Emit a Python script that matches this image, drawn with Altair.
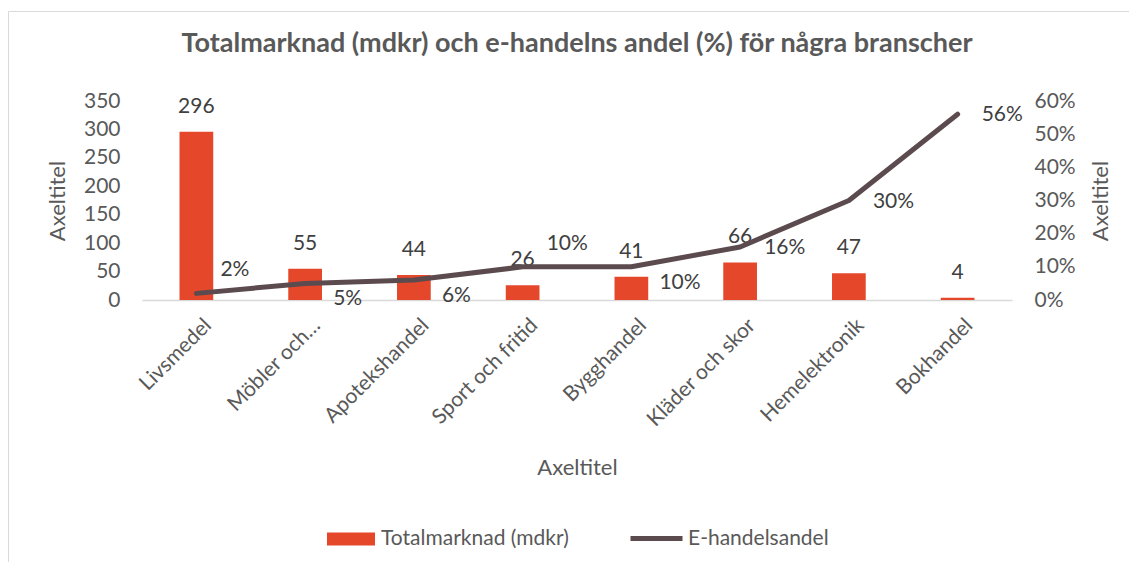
import altair as alt
import pandas as pd

# ---- data ----
categories = ["Livsmedel", "Möbler och…", "Apotekshandel", "Sport och fritid",
              "Bygghandel", "Kläder och skor", "Hemelektronik", "Bokhandel"]
totalmarknad = [296, 55, 44, 26, 41, 66, 47, 4]
ehandel_andel = [0.02, 0.05, 0.06, 0.10, 0.10, 0.16, 0.30, 0.56]
bar_series = "Totalmarknad (mdkr)"
line_series = "E-handelsandel"
left_ticks = [0, 50, 100, 150, 200, 250, 300, 350]
right_ticks = [0, 0.1, 0.2, 0.3, 0.4, 0.5, 0.6]
above_labels = ["Livsmedel", "Sport och fritid"]
below_labels = ["Möbler och…", "Apotekshandel", "Bygghandel"]
right_labels = ["Kläder och skor", "Hemelektronik", "Bokhandel"]

df = pd.DataFrame({
    "kategori": categories,
    "total": totalmarknad,
    "andel": ehandel_andel,
    "s1": bar_series,
    "s2": line_series,
})

W, H = 870, 199
FONT = "Lato"
FS = 21
GRAY = "#595959"
TXT = "#404040"
RED = "#e5472b"
DARK = "#5b4b4f"

x_enc = alt.X(
    "kategori:N", sort=categories,
    scale=alt.Scale(paddingInner=0.69, paddingOuter=0.345),
    axis=alt.Axis(
        title="Axeltitel", labelAngle=-45, labelAlign="right", labelBaseline="middle",
        labelPadding=22, labelOffset=12, ticks=False, tickSize=0, grid=False,
        domainColor="#d9d9d9", domainWidth=1.5,
        labelFont=FONT, labelFontSize=FS, labelColor=GRAY,
        titleFont=FONT, titleFontSize=FS + 1, titleFontWeight="normal", titleColor=GRAY,
        titleX=W / 2, titleY=167, titleBaseline="middle", titleAlign="center",
    ),
)

y_left = alt.Y(
    "total:Q",
    scale=alt.Scale(domain=[0, 350]),
    axis=alt.Axis(
        values=left_ticks, grid=False, domain=False, ticks=False, tickSize=0,
        labelPadding=22, labelFont=FONT, labelFontSize=FS, labelColor=GRAY,
        title="Axeltitel", titleFont=FONT, titleFontSize=FS + 1, titleFontWeight="normal",
        titleColor=GRAY, titleAngle=270, titleX=-85, titleY=H / 2,
        titleAlign="center", titleBaseline="middle",
    ),
)

y_right = alt.Y(
    "andel:Q",
    scale=alt.Scale(domain=[0, 0.6]),
    axis=alt.Axis(
        orient="right", values=right_ticks, format=".0%", grid=False, domain=False,
        ticks=False, tickSize=0, labelPadding=22,
        labelFont=FONT, labelFontSize=FS, labelColor=GRAY,
        title="Axeltitel", titleFont=FONT, titleFontSize=FS + 1, titleFontWeight="normal",
        titleColor=GRAY, titleAngle=270, titleX=88, titleY=H / 2,
        titleAlign="center", titleBaseline="middle",
    ),
)

base = alt.Chart(df)

border = base.mark_rect(filled=False, stroke="#d9d9d9", strokeWidth=1).encode(
    x=alt.value(-133.5), x2=alt.value(W + 200), y=alt.value(-89.5), y2=alt.value(H + 300)
).transform_filter(alt.datum.kategori == categories[0])

bars = base.mark_bar().encode(
    x=x_enc,
    y=y_left,
    color=alt.Color(
        "s1:N", scale=alt.Scale(domain=[bar_series], range=[RED]),
        legend=alt.Legend(
            title=None, orient="none", legendX=185, legendY=414,
            symbolType="M-1,-0.27H1V0.27H-1Z", symbolSize=2304, symbolStrokeWidth=0,
            labelFont=FONT, labelFontSize=FS, labelColor=GRAY, labelOffset=6,
            labelLimit=400,
        ),
    ),
)

bar_text = base.mark_text(
    font=FONT, fontSize=FS, color=TXT, baseline="middle", dy=-25
).encode(x=x_enc, y=y_left, text=alt.Text("total:Q"))

line = base.mark_line(strokeWidth=5, strokeCap="round", strokeJoin="round").encode(
    x=x_enc,
    y=y_right,
    stroke=alt.Stroke(
        "s2:N", scale=alt.Scale(domain=[line_series], range=[DARK]),
        legend=alt.Legend(
            title=None, orient="none", legendX=486, legendY=409,
            symbolType="stroke", symbolSize=2704, symbolStrokeWidth=5,
            labelFont=FONT, labelFontSize=FS, labelColor=GRAY, labelOffset=3,
            labelLimit=400,
        ),
    ),
)

def pct_text(cats, dx, dy):
    return base.mark_text(
        font=FONT, fontSize=FS, color=TXT, align="left", baseline="middle", dx=dx, dy=dy
    ).encode(
        x=x_enc, y=y_right, text=alt.Text("andel:Q", format=".0%")
    ).transform_filter(alt.FieldOneOfPredicate(field="kategori", oneOf=cats))

left_layer = alt.layer(border, bars, bar_text)
right_layer = alt.layer(
    line,
    pct_text(above_labels, 24, -23),
    pct_text(below_labels, 28, 16),
    pct_text(right_labels, 24, 1),
)

chart = alt.layer(left_layer, right_layer).resolve_scale(
    y="independent", color="independent", stroke="independent"
).properties(
    width=W, height=H,
    title=alt.TitleParams(
        "Totalmarknad (mdkr) och e-handelns andel (%) för några branscher",
        font=FONT, fontSize=27, fontWeight="bold", color=GRAY,
        anchor="middle", frame="group", offset=-47,
    ),
    autosize=alt.AutoSizeParams(type="none"),
    padding={"left": 134, "top": 93, "right": 117, "bottom": 262},
    background="white",
).configure_view(stroke=None)

chart.save("out.html", embed_options={"renderer": "svg", "actions": False})
